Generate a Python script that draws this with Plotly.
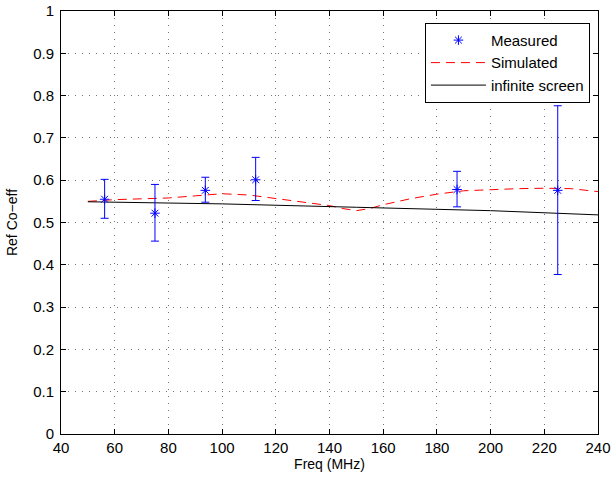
import plotly.graph_objects as go

meas_freq = [56.25, 75.0, 93.75, 112.5, 187.5, 225.0]
meas_val = [0.555, 0.522, 0.576, 0.601, 0.578, 0.576]
meas_hi = [0.602, 0.590, 0.607, 0.654, 0.621, 0.776]
meas_lo = [0.510, 0.456, 0.548, 0.552, 0.537, 0.377]

sim_freq = [50, 60, 70, 80, 90, 100, 110, 120, 130, 140, 145, 150, 155, 160, 170, 180, 190, 200, 210, 220, 230, 240]
sim_val = [0.550, 0.554, 0.556, 0.558, 0.563, 0.568, 0.565, 0.557, 0.548, 0.540, 0.533, 0.528, 0.533, 0.542, 0.556, 0.567, 0.575, 0.578, 0.580, 0.581, 0.580, 0.573]

inf_freq = [50, 100, 150, 200, 240]
inf_val = [0.549, 0.544, 0.536, 0.528, 0.518]

err_plus = [h - v for h, v in zip(meas_hi, meas_val)]
err_minus = [v - l for l, v in zip(meas_lo, meas_val)]

fig = go.Figure()
fig.add_trace(go.Scatter(
    x=sim_freq, y=sim_val, mode="lines", name="Simulated", legendrank=2,
    line=dict(color="#ff0000", width=1, dash="9px,6px")))
fig.add_trace(go.Scatter(
    x=inf_freq, y=inf_val, mode="lines", name="infinite screen", legendrank=3,
    line=dict(color="#000000", width=1)))
fig.add_trace(go.Scatter(
    x=meas_freq, y=meas_val, mode="markers", name="Measured", legendrank=1,
    marker=dict(symbol="asterisk-open", size=8, color="#0000ff",
                line=dict(color="#0000ff", width=1)),
    error_y=dict(type="data", symmetric=False, array=err_plus, arrayminus=err_minus,
                 color="#0000ff", thickness=1, width=4)))

axis_common = dict(showline=True, linecolor="black", linewidth=1, mirror="allticks",
                   ticks="inside", ticklen=5, tickcolor="black", automargin=False,
                   showgrid=True, gridcolor="#777777", griddash="1px,6px", gridwidth=1,
                   zeroline=False, tickfont=dict(size=15, color="black"))

fig.update_layout(
    width=612, height=480,
    margin=dict(l=61, r=14, t=11, b=46),
    paper_bgcolor="white", plot_bgcolor="white",
    font=dict(family="Liberation Sans, Arial, sans-serif", size=15, color="black"),
    xaxis=dict(range=[40, 240], tickvals=list(range(40, 241, 20)),
               title=dict(text="Freq (MHz)", standoff=2, font=dict(size=14)), **axis_common),
    yaxis=dict(range=[0, 1], tickvals=[i / 10 for i in range(11)],
               ticktext=["0", "0.1", "0.2", "0.3", "0.4", "0.5", "0.6", "0.7", "0.8", "0.9", "1"],
               ticklabelstandoff=3,
               title=dict(text="Ref Co\u2212eff", standoff=12, font=dict(size=14)), **axis_common),
    legend=dict(x=0.985, y=0.972, xanchor="right", yanchor="top",
                bgcolor="white", bordercolor="black", borderwidth=1,
                font=dict(size=15), traceorder="normal", tracegroupgap=0,
                itemwidth=55),
    showlegend=True,
)

fig.write_html("out.html")
